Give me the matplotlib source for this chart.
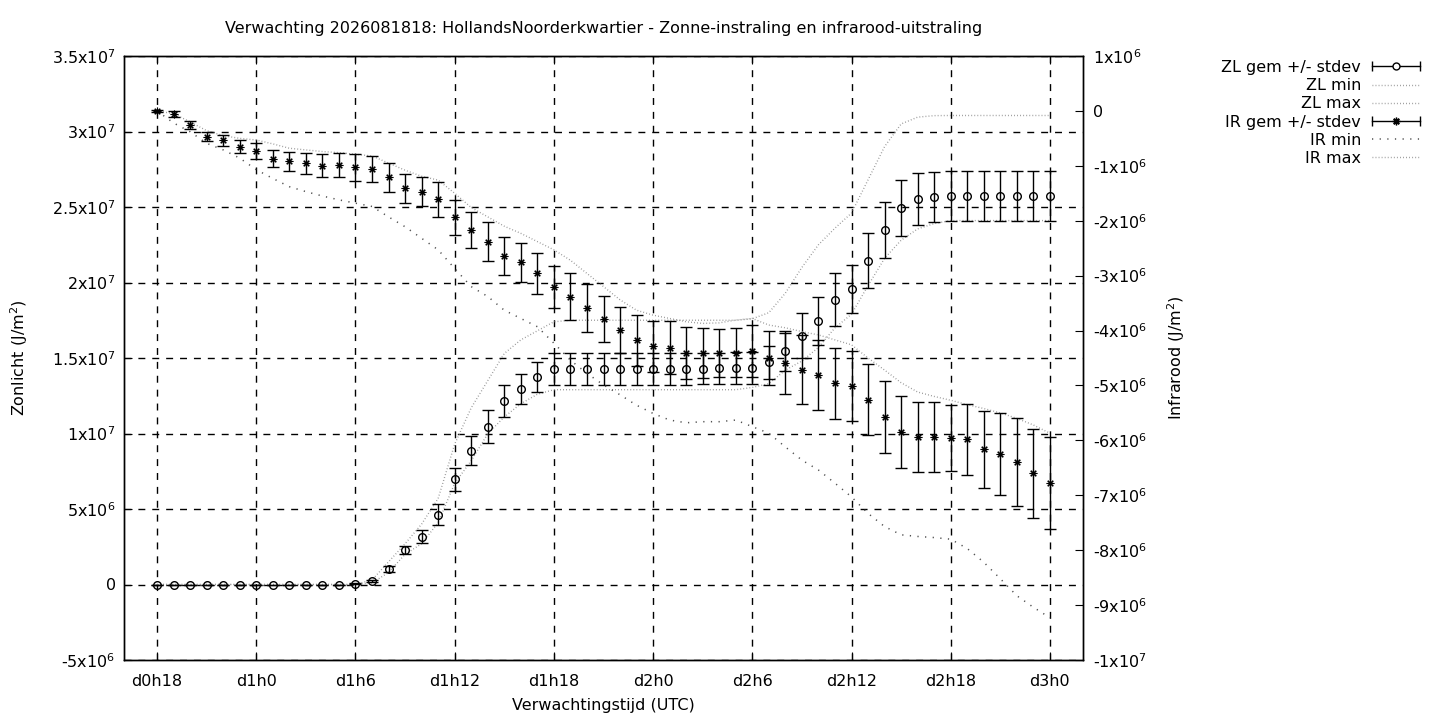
import numpy as np
import matplotlib
matplotlib.use('Agg')
import matplotlib.pyplot as plt
from matplotlib.lines import Line2D
from matplotlib.legend_handler import HandlerLine2D, HandlerTuple

plt.rcParams['font.family'] = 'DejaVu Sans'
plt.rcParams['font.size'] = 11.5
plt.rcParams['mathtext.default'] = 'regular'

# forecast hours (d0h18 .. d3h0)
hours = np.arange(18, 73)

# Zonlicht (J/m2), left axis, in units of 1e6
zl_mean = [0, 0, 0, 0, 0, 0, 0, 0, 0, 0, 0, 0,
           0.05, 0.22, 1.04, 2.3, 3.16, 4.62, 6.98, 8.87, 10.44, 12.17, 12.96, 13.75,
           14.28, 14.28, 14.28, 14.28, 14.28, 14.28, 14.28, 14.28, 14.28, 14.3, 14.32, 14.33,
           14.35, 14.72, 15.48, 16.47, 17.46, 18.85, 19.58, 21.44, 23.49, 24.95, 25.54, 25.67,
           25.74, 25.74, 25.74, 25.74, 25.74, 25.74, 25.74]
zl_std = [0, 0, 0, 0, 0, 0, 0, 0, 0, 0, 0, 0,
          0.02, 0.06, 0.2, 0.25, 0.44, 0.68, 0.76, 0.94, 1.09, 1.07, 1.0, 1.01,
          1.06, 1.06, 1.06, 1.06, 1.06, 1.06, 1.05, 1.05, 1.04, 1.04, 1.04, 1.04,
          1.05, 1.1, 1.31, 1.5, 1.59, 1.75, 1.58, 1.82, 1.84, 1.84, 1.74, 1.68,
          1.65, 1.65, 1.65, 1.65, 1.65, 1.65, 1.65]
zl_min = [0, 0, 0, 0, 0, 0, 0, 0, 0, 0, 0, 0,
          0, 0.1, 0.8, 2.0, 2.7, 4.1, 6.7, 8.2, 9.98, 11.1, 11.97, 12.6,
          12.9, 12.9, 12.9, 12.9, 12.9, 12.9, 12.9, 12.9, 12.9, 12.9, 12.9, 12.9,
          13.05, 13.3, 14.2, 14.8, 15.7, 17.0, 17.9, 19.8, 21.6, 22.8, 23.55, 23.9,
          24.1, 24.1, 24.1, 24.1, 24.1, 24.1, 24.1]
zl_max = [0, 0, 0, 0, 0, 0, 0, 0, 0, 0, 0, 0,
          0, 0.3, 1.5, 2.7, 4.0, 5.7, 9.3, 11.7, 13.5, 15.3, 16.2, 16.8,
          17.4, 17.5, 17.5, 17.5, 17.5, 17.5, 17.5, 17.5, 17.5, 17.5, 17.5, 17.5,
          17.6, 18.0, 19.3, 21.0, 22.5, 23.6, 24.6, 26.8, 29.0, 30.5, 30.95, 31.05,
          31.06, 31.06, 31.06, 31.06, 31.06, 31.06, 31.06]

# Infrarood (J/m2), right axis, in units of 1e6
ir_mean = [0, -0.06, -0.26, -0.47, -0.53, -0.65, -0.73, -0.87, -0.92, -0.95, -1.0, -0.99,
           -1.03, -1.06, -1.21, -1.41, -1.47, -1.61, -1.94, -2.17, -2.38, -2.64, -2.76, -2.96,
           -3.21, -3.38, -3.59, -3.79, -3.99, -4.18, -4.29, -4.31, -4.41, -4.41, -4.41, -4.40,
           -4.37, -4.50, -4.60, -4.71, -4.81, -4.96, -5.01, -5.26, -5.57, -5.85, -5.94, -5.94,
           -5.96, -5.98, -6.16, -6.25, -6.40, -6.60, -6.78]
ir_std = [0.02, 0.05, 0.07, 0.08, 0.10, 0.12, 0.14, 0.16, 0.17, 0.19, 0.21, 0.22,
          0.24, 0.24, 0.26, 0.26, 0.27, 0.32, 0.32, 0.33, 0.36, 0.35, 0.36, 0.38,
          0.38, 0.42, 0.44, 0.42, 0.42, 0.47, 0.47, 0.49, 0.47, 0.46, 0.44, 0.44,
          0.47, 0.49, 0.56, 0.62, 0.63, 0.65, 0.63, 0.65, 0.66, 0.66, 0.64, 0.63,
          0.60, 0.65, 0.70, 0.75, 0.80, 0.81, 0.84]
ir_min = [0, -0.22, -0.38, -0.59, -0.71, -0.86, -1.07, -1.23, -1.38, -1.47, -1.55, -1.62,
          -1.68, -1.74, -1.93, -2.11, -2.32, -2.53, -2.87, -3.2, -3.38, -3.63, -3.78, -3.93,
          -4.23, -4.54, -4.78, -4.99, -5.17, -5.36, -5.51, -5.63, -5.68, -5.66, -5.66, -5.63,
          -5.75, -5.87, -6.12, -6.36, -6.54, -6.78, -7.03, -7.33, -7.57, -7.72, -7.75, -7.77,
          -7.8, -7.97, -8.22, -8.52, -8.83, -9.04, -9.23]
ir_max = [0, -0.05, -0.2, -0.36, -0.45, -0.5, -0.53, -0.6, -0.68, -0.71, -0.74, -0.76,
          -0.79, -0.82, -0.95, -1.08, -1.19, -1.26, -1.5, -1.76, -1.93, -2.1, -2.23, -2.38,
          -2.53, -2.72, -2.96, -3.2, -3.44, -3.63, -3.72, -3.78, -3.84, -3.87, -3.86, -3.81,
          -3.78, -3.9, -3.95, -4.02, -4.08, -4.17, -4.26, -4.5, -4.72, -4.95, -5.12, -5.2,
          -5.27, -5.35, -5.42, -5.5, -5.6, -5.72, -5.87]

xtick_pos = [18, 24, 30, 36, 42, 48, 54, 60, 66, 72]
xtick_labels = ['d0h18', 'd1h0', 'd1h6', 'd1h12', 'd1h18', 'd2h0', 'd2h6', 'd2h12', 'd2h18', 'd3h0']
ytick_pos = [-5e6, 0, 5e6, 1e7, 1.5e7, 2e7, 2.5e7, 3e7, 3.5e7]
ytick_labels = ['-5x10$^6$', '0', '5x10$^6$', '1x10$^7$', '1.5x10$^7$', '2x10$^7$',
                '2.5x10$^7$', '3x10$^7$', '3.5x10$^7$']
y2tick_pos = [-1e7, -9e6, -8e6, -7e6, -6e6, -5e6, -4e6, -3e6, -2e6, -1e6, 0, 1e6]
y2tick_labels = ['-1x10$^7$', '-9x10$^6$', '-8x10$^6$', '-7x10$^6$', '-6x10$^6$', '-5x10$^6$',
                 '-4x10$^6$', '-3x10$^6$', '-2x10$^6$', '-1x10$^6$', '0', '1x10$^6$']

scale = 1e6
zl_mean = np.array(zl_mean) * scale
zl_std = np.array(zl_std) * scale
zl_min = np.array(zl_min) * scale
zl_max = np.array(zl_max) * scale
ir_mean = np.array(ir_mean) * scale
ir_std = np.array(ir_std) * scale
ir_min = np.array(ir_min) * scale
ir_max = np.array(ir_max) * scale

fig = plt.figure(figsize=(14.4, 7.2), dpi=100)
ax = fig.add_axes([124 / 1440, 60 / 720, 959 / 1440, 604 / 720])
ax2 = ax.twinx()

fine_dots = (0, (0.6, 1.6))
sparse_dots = (0, (0.8, 4.2))

# zonlicht
ax.errorbar(hours, zl_mean, yerr=zl_std, fmt='o', ms=5.5, mfc='none', mec='black',
            mew=1, color='black', ecolor='black', elinewidth=1, capsize=4, capthick=1, zorder=3)
ax.plot(hours, zl_min, color='#909090', lw=1, ls=fine_dots, zorder=2)
ax.plot(hours, zl_max, color='#909090', lw=1, ls=fine_dots, zorder=2)

# infrarood
ax2.errorbar(hours, ir_mean, yerr=ir_std, fmt='none', ecolor='black', elinewidth=1,
             capsize=4, capthick=1, zorder=3)
ax2.plot(hours, ir_mean, ls='none', marker=(8, 2, 0), ms=5.5, mew=0.8, color='black', zorder=4)
ax2.plot(hours, ir_min, color='#505050', lw=1.1, ls=sparse_dots, zorder=2)
ax2.plot(hours, ir_max, color='#909090', lw=1, ls=fine_dots, zorder=2)

ax.set_xlim(16, 74)
ax.set_ylim(-5e6, 3.5e7)
ax2.set_ylim(-1e7, 1e6)

ax.set_xticks(xtick_pos)
ax.set_xticklabels(xtick_labels)
ax.set_yticks(ytick_pos)
ax.set_yticklabels(ytick_labels)
ax2.set_yticks(y2tick_pos)
ax2.set_yticklabels(y2tick_labels)

ax.grid(True, color='black', lw=1, ls=(0, (5, 5)))
ax.tick_params(axis='x', direction='in', length=6, pad=10, top=True)
ax.tick_params(axis='y', direction='in', length=6, pad=6)
ax2.tick_params(axis='y', direction='in', length=6, pad=7)
for a in (ax, ax2):
    for sp in a.spines.values():
        sp.set_linewidth(1)

ax.set_xlabel('Verwachtingstijd (UTC)')
ax.set_ylabel('Zonlicht (J/m$^2$)')
ax2.set_ylabel('Infrarood (J/m$^2$)')
ax.xaxis.set_label_coords(0.5, -0.063)
ax.yaxis.set_label_coords(-0.098, 0.5)
ax2.yaxis.set_label_coords(1.086, 0.5)

fig.text(603.5 / 1440, 1 - 29 / 720,
         'Verwachting 2026081818: HollandsNoorderkwartier - Zonne-instraling en infrarood-uitstraling',
         ha='center', va='center')

# gnuplot style legend: text right-aligned, sample on the right
def bar_handle(marker, ms):
    caps = Line2D([], [], color='black', lw=1, marker='|', ms=7, mew=1)
    mark = Line2D([], [], ls='none', marker=marker, ms=ms, mfc='white', mec='black', mew=1)
    return (caps, mark), caps, mark

zl_h, zl_caps, zl_mark = bar_handle('o', 5)
ir_h, ir_caps, ir_mark = bar_handle((8, 2, 0), 5.5)
handles = [zl_h,
           Line2D([], [], color='#909090', lw=1, ls=fine_dots),
           Line2D([], [], color='#909090', lw=1, ls=fine_dots),
           ir_h,
           Line2D([], [], color='#505050', lw=1.1, ls=sparse_dots),
           Line2D([], [], color='#909090', lw=1, ls=fine_dots)]
labels = ['ZL gem +/- stdev', 'ZL min', 'ZL max', 'IR gem +/- stdev', 'IR min', 'IR max']
hmap = {zl_caps: HandlerLine2D(numpoints=2, marker_pad=0), ir_caps: HandlerLine2D(numpoints=2, marker_pad=0),
        zl_mark: HandlerLine2D(numpoints=1), ir_mark: HandlerLine2D(numpoints=1),
        tuple: HandlerTuple(ndivide=1)}
fig.legend(handles, labels, handler_map=hmap, loc='upper right', markerfirst=False,
           bbox_to_anchor=(1428 / 1440, 1 - 52 / 720), frameon=False, borderpad=0,
           handlelength=3.0, handletextpad=0.7, labelspacing=0.2)

fig.savefig('out.png', dpi=100)
